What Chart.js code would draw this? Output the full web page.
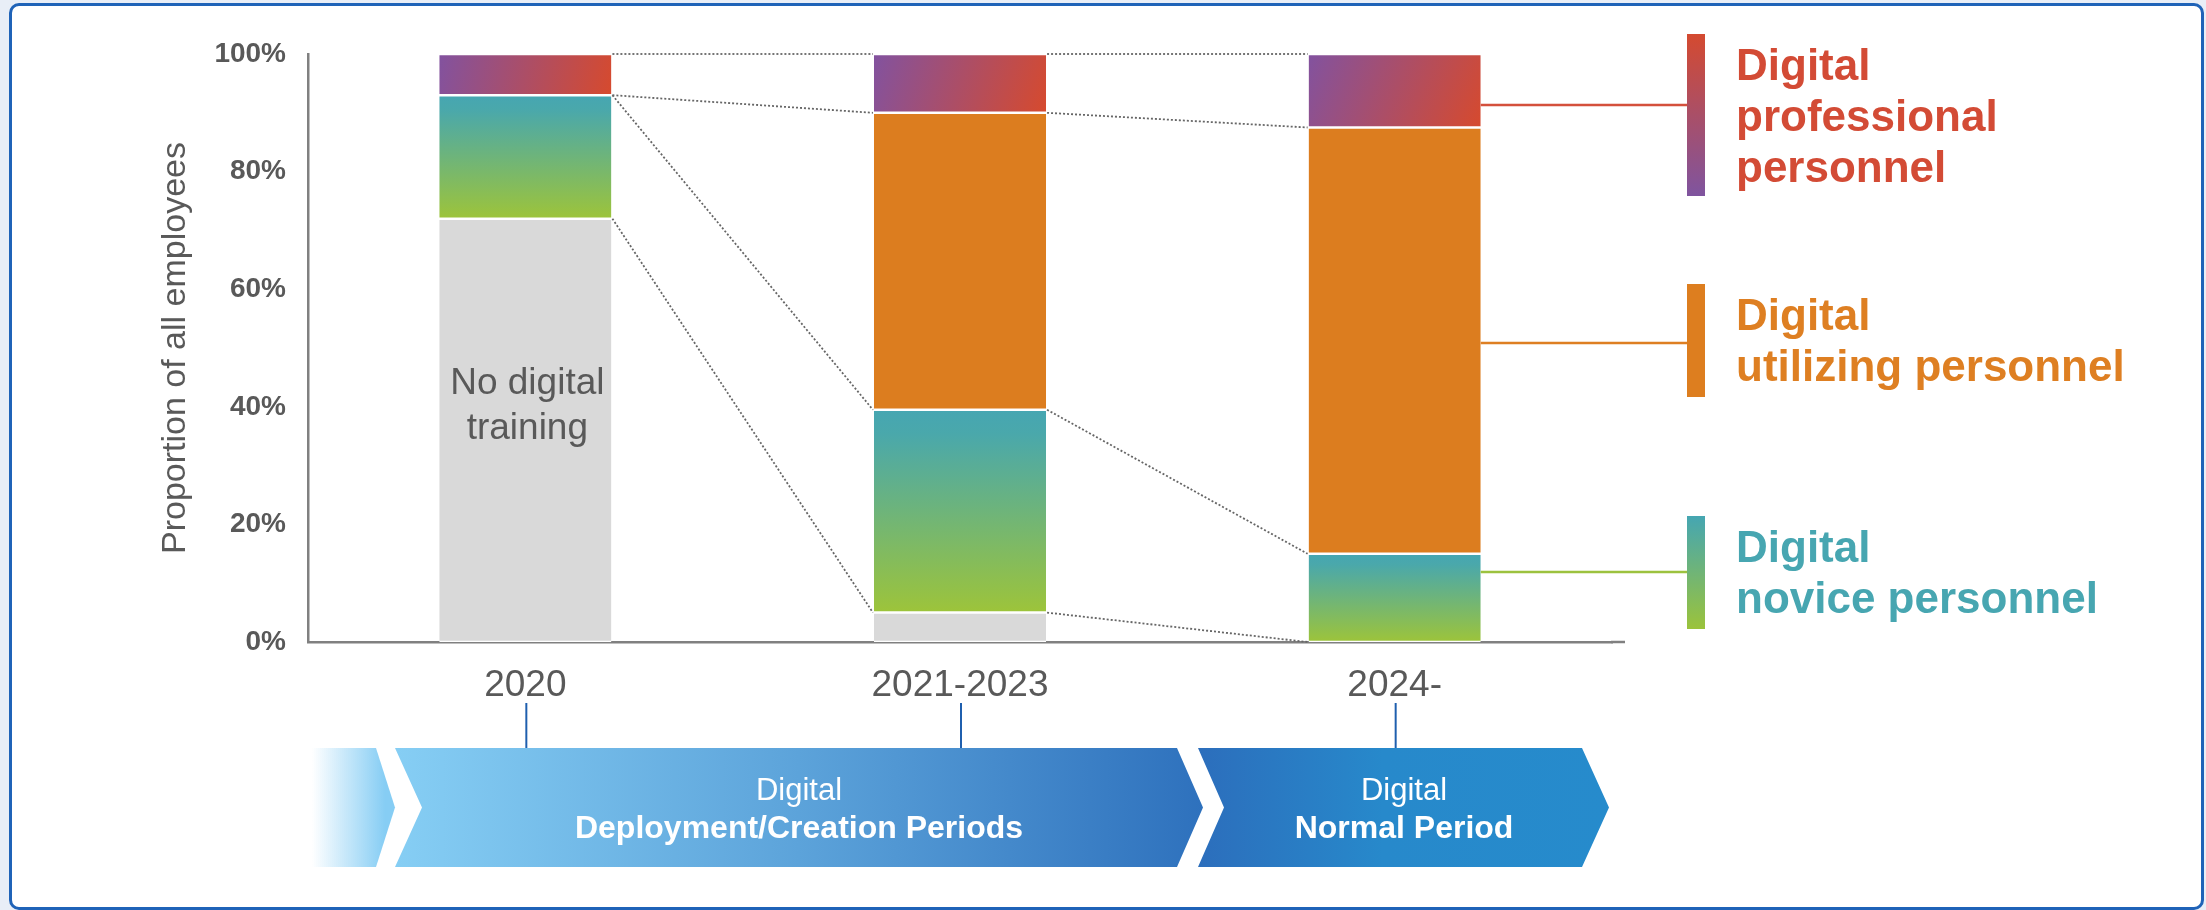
<!DOCTYPE html>
<html>
<head>
<meta charset="utf-8">
<script src="https://cdn.jsdelivr.net/npm/chart.js@4.4.0/dist/chart.umd.min.js"></script>
<style>
  html, body { margin: 0; padding: 0; width: 2206px; height: 910px; overflow: hidden; background: #e8eef7; }
  #frame { position: absolute; left: 9px; top: 3px; width: 2195px; height: 907px; box-sizing: border-box;
           border: 3px solid #1f63b8; border-radius: 10px; background: #fff; }
  #chart { position: absolute; left: 0; top: 0; }
</style>
</head>
<body>
<div id="frame"></div>
<canvas id="chart" width="2206" height="910" style="width:2206px;height:910px"></canvas>
<script>
// data (stacked from the bottom up)
const categories = ['2020', '2021-2023', '2024-'];
const noTraining = [72, 5, 0];
const novice = [21, 34.5, 15];
const utilizing = [0, 50.5, 72.5];
const professional = [7, 10, 12.5];
const yTicks = [0, 20, 40, 60, 80, 100];

const stackOrder = [noTraining, novice, utilizing, professional];
const BAR_PCT = 0.396;
const FONT = "'Liberation Sans', Arial, sans-serif";
const GREY = '#595959';

// pixel box of one stacked segment, taken from the scales
function segBox(c) {
    const xs = c.chart.scales.x, ys = c.chart.scales.y;
    const i = c.dataIndex;
    let start = 0;
    for (let k = 0; k < c.datasetIndex; k++) start += stackOrder[k][i];
    const end = start + stackOrder[c.datasetIndex][i];
    const step = xs.getPixelForValue(1) - xs.getPixelForValue(0);
    const cx = xs.getPixelForValue(i);
    return {
        left: cx - step * BAR_PCT / 2, right: cx + step * BAR_PCT / 2,
        top: ys.getPixelForValue(end), bottom: ys.getPixelForValue(start)
    };
}

function noviceFill(c) {
    if (c.type !== 'data' || !c.chart.chartArea) return '#72b27c';
    const b = segBox(c);
    const g = c.chart.ctx.createLinearGradient(0, b.top, 0, Math.max(b.bottom, b.top + 1));
    g.addColorStop(0, '#46a6b2');
    g.addColorStop(0.12, '#4aa8ab');
    g.addColorStop(1, '#9dc43a');
    return g;
}

function proFill(c) {
    if (c.type !== 'data' || !c.chart.chartArea) return '#a94f6c';
    const b = segBox(c);
    const g = c.chart.ctx.createLinearGradient(b.left, b.top, b.right, Math.max(b.bottom, b.top + 1));
    g.addColorStop(0, '#82529f');
    g.addColorStop(1, '#d64a2e');
    return g;
}

// dotted lines joining the tops of each group between neighbouring bars
const connectors = {
    id: 'connectors',
    afterDatasetsDraw(chart) {
        const ctx = chart.ctx;
        ctx.save();
        ctx.strokeStyle = '#666666';
        ctx.lineWidth = 1.8;
        ctx.setLineDash([2, 2]);
        for (let d = 0; d < stackOrder.length; d++) {
            const bars = chart.getDatasetMeta(d).data;
            for (let i = 0; i < bars.length - 1; i++) {
                const a = bars[i], b = bars[i + 1];
                ctx.beginPath();
                ctx.moveTo(a.x + a.width / 2 + 1, a.y);
                ctx.lineTo(b.x - b.width / 2 - 1, b.y);
                ctx.stroke();
            }
        }
        ctx.restore();

        // label inside the grey 2020 bar
        const el = chart.getDatasetMeta(0).data[0];
        const mid = (el.y + el.base) / 2;
        ctx.save();
        ctx.fillStyle = GREY;
        ctx.font = '37px ' + FONT;
        ctx.textAlign = 'center';
        ctx.textBaseline = 'alphabetic';
        ctx.fillText('No digital', el.x + 2, mid - 36);
        ctx.fillText('training', el.x + 2, mid + 9);
        ctx.restore();
    }
};

// right-hand legend and the period arrows under the axis
const decorations = {
    id: 'decorations',
    afterDraw(chart) {
        const ctx = chart.ctx;
        const xs = chart.scales.x;
        const area = chart.chartArea;
        ctx.save();

        // x axis line runs a little past the last category
        ctx.strokeStyle = '#808080';
        ctx.lineWidth = 2.5;
        ctx.beginPath();
        ctx.moveTo(area.right - 1, area.bottom);
        ctx.lineTo(1625, area.bottom);
        ctx.stroke();

        const lastBar = chart.getDatasetMeta(3).data[2];
        const lineStart = lastBar.x + lastBar.width / 2;
        const groups = [
            { lineY: 105, top: 34, bottom: 196, colors: ['#d44a30', '#7f549f'], text: '#d34b35',
              lines: ['Digital', 'professional', 'personnel'], base: 80 },
            { lineY: 343, top: 284, bottom: 397, colors: ['#dd7e1f', '#dd7e1f'], text: '#de7f22',
              lines: ['Digital', 'utilizing personnel'], base: 330 },
            { lineY: 572, top: 516, bottom: 629, colors: ['#45a6b2', '#9bc33b'], text: '#47a6b1',
              lines: ['Digital', 'novice personnel'], base: 562 }
        ];
        const lineColors = ['#d4503c', '#de7f22', '#9cc23e'];
        groups.forEach((g, k) => {
            ctx.strokeStyle = lineColors[k];
            ctx.lineWidth = 2.5;
            ctx.beginPath();
            ctx.moveTo(lineStart, g.lineY);
            ctx.lineTo(1688, g.lineY);
            ctx.stroke();
            const grad = ctx.createLinearGradient(0, g.top, 0, g.bottom);
            grad.addColorStop(0, g.colors[0]);
            grad.addColorStop(1, g.colors[1]);
            ctx.fillStyle = grad;
            ctx.fillRect(1687, g.top, 18, g.bottom - g.top);
            ctx.fillStyle = g.text;
            ctx.font = 'bold 44px ' + FONT;
            ctx.textAlign = 'left';
            ctx.textBaseline = 'alphabetic';
            g.lines.forEach((t, j) => ctx.fillText(t, 1736, g.base + j * 51));
        });

        // period arrows
        const top = 748, bottom = 867, mid = (top + bottom) / 2;
        let grad = ctx.createLinearGradient(312, 0, 385, 0);
        grad.addColorStop(0, 'rgba(134,205,244,0)');
        grad.addColorStop(1, '#86cdf4');
        ctx.fillStyle = grad;
        ctx.beginPath();
        ctx.moveTo(312, top); ctx.lineTo(376, top); ctx.lineTo(395, mid);
        ctx.lineTo(376, bottom); ctx.lineTo(312, bottom); ctx.closePath();
        ctx.fill();

        const chevron = (x0, x1, notch, tip, stops) => {
            const g = ctx.createLinearGradient(x0, 0, x1 + tip, 0);
            stops.forEach(s => g.addColorStop(s[0], s[1]));
            ctx.fillStyle = g;
            ctx.beginPath();
            ctx.moveTo(x0, top); ctx.lineTo(x1, top); ctx.lineTo(x1 + tip, mid);
            ctx.lineTo(x1, bottom); ctx.lineTo(x0, bottom); ctx.lineTo(x0 + notch, mid);
            ctx.closePath();
            ctx.fill();
        };
        chevron(395, 1177, 27, 26, [[0, '#86cef4'], [0.5, '#5ca3da'], [1, '#2e71bd']]);
        chevron(1198, 1582, 26, 27, [[0, '#2c6ebc'], [0.45, '#2789cb'], [1, '#268bcc']]);

        ctx.fillStyle = '#ffffff';
        ctx.textAlign = 'center';
        ctx.font = '31px ' + FONT;
        ctx.fillText('Digital', 799, 800);
        ctx.fillText('Digital', 1404, 800);
        ctx.font = 'bold 32px ' + FONT;
        ctx.fillText('Deployment/Creation Periods', 799, 838);
        ctx.fillText('Normal Period', 1404, 838);

        // blue ticks from the category labels down to the arrows
        ctx.strokeStyle = '#1f5fae';
        ctx.lineWidth = 2;
        categories.forEach((c, i) => {
            const px = xs.getPixelForValue(i) + 1;
            ctx.beginPath();
            ctx.moveTo(px, 703);
            ctx.lineTo(px, top);
            ctx.stroke();
        });
        ctx.restore();
    }
};

const common = {
    borderColor: '#ffffff',
    borderWidth: { top: 1.25, bottom: 1.25, left: 0, right: 0 },
    borderSkipped: false,
    barPercentage: BAR_PCT,
    categoryPercentage: 1,
    stack: 'all'
};

new Chart(document.getElementById('chart'), {
    type: 'bar',
    data: {
        labels: categories,
        datasets: [
            Object.assign({ label: 'No digital training', data: noTraining, backgroundColor: '#d9d9d9' }, common),
            Object.assign({ label: 'Digital novice personnel', data: novice, backgroundColor: noviceFill }, common),
            Object.assign({ label: 'Digital utilizing personnel', data: utilizing, backgroundColor: '#dc7d1f' }, common),
            Object.assign({ label: 'Digital professional personnel', data: professional, backgroundColor: proFill }, common)
        ]
    },
    options: {
        responsive: false,
        animation: false,
        events: [],
        devicePixelRatio: 1,
        layout: { padding: { left: 0, top: 54, right: 594, bottom: 0 } },
        plugins: { legend: { display: false }, tooltip: { enabled: false } },
        scales: {
            x: {
                stacked: true,
                grid: { display: false, drawTicks: false },
                border: { display: true, color: '#808080', width: 2.5 },
                ticks: { color: GREY, font: { family: FONT, size: 37 }, padding: 22 },
                afterFit: s => { s.height = 268; }
            },
            y: {
                stacked: true,
                min: 0,
                max: 100,
                afterBuildTicks: s => { s.ticks = yTicks.map(v => ({ value: v })); },
                grid: { display: false, drawTicks: false },
                border: { display: true, color: '#808080', width: 2.5 },
                ticks: {
                    color: GREY,
                    font: { family: FONT, size: 28, weight: 'bold' },
                    padding: 22,
                    callback: v => v + '%'
                },
                title: {
                    display: true,
                    text: 'Proportion of all employees',
                    color: GREY,
                    font: { family: FONT, size: 34 },
                    padding: { top: 155, bottom: 0 }
                },
                afterFit: s => { s.width = 308; }
            }
        }
    },
    plugins: [connectors, decorations]
});
</script>
</body>
</html>
